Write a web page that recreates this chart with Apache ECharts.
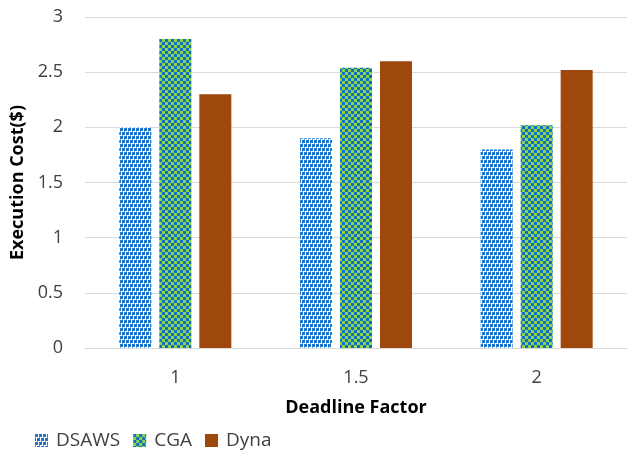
<!DOCTYPE html>
<html><head><meta charset="utf-8">
<script src="https://cdn.jsdelivr.net/npm/echarts@6/dist/echarts.min.js"></script>
<style>html,body{margin:0;padding:0;background:#fff}#c{width:631px;height:454px}</style>
</head><body><div id="c"></div>
<script>
const categories = ['1', '1.5', '2'];
const dsaws = [2.0, 1.9, 1.8];
const cga = [2.8, 2.54, 2.02];
const dyna = [2.3, 2.6, 2.52];
const seriesNames = ['DSAWS', 'CGA', 'Dyna'];

function makeDsaws() {
  const c = document.createElement('canvas'); c.width = 4; c.height = 8;
  const g = c.getContext('2d');
  g.fillStyle = '#ffffff'; g.fillRect(0, 0, 4, 8);
  g.fillStyle = '#1f7ad0';
  g.fillRect(0, 0, 3, 3);
  g.fillRect(2, 4, 2, 3); g.fillRect(0, 4, 1, 3);
  g.fillStyle = '#6aa8e2';
  g.fillRect(0, 3, 1, 1); g.fillRect(2, 7, 1, 1);
  g.fillStyle = '#0f62b0';
  g.fillRect(1, 1, 1, 1); g.fillRect(3, 5, 1, 1);
  return c;
}
function makeCga() {
  const c = document.createElement('canvas'); c.width = 6; c.height = 6;
  const g = c.getContext('2d');
  g.fillStyle = '#92d050'; g.fillRect(0, 0, 6, 6);
  g.fillStyle = '#0a72c0';
  g.fillRect(0, 0, 3, 3); g.fillRect(3, 3, 3, 3);
  return c;
}
const colors = [
  { image: makeDsaws(), repeat: 'repeat' },
  { image: makeCga(), repeat: 'repeat' },
  '#9e480e'
];
const dataSets = [dsaws, cga, dyna];
const font = '"Open Sans", "Noto Sans", sans-serif';
const chart = echarts.init(document.getElementById('c'), null, { renderer: 'canvas' });
chart.setOption({
  animation: false,
  textStyle: { fontFamily: font },
  grid: { left: 85, right: 4, top: 17, bottom: 106 },
  legend: {
    left: 30, top: 426, icon: 'rect', itemWidth: 13, itemHeight: 13, itemGap: 13,
    textStyle: { fontSize: 19, color: '#404040', fontFamily: font, padding: [0, 0, 0, 3] },
    data: seriesNames
  },
  xAxis: {
    type: 'category', data: categories,
    name: 'Deadline Factor', nameLocation: 'center', nameGap: 51,
    nameTextStyle: { fontSize: 18, fontWeight: 'bold', color: '#000', fontFamily: font },
    axisLine: { show: true, lineStyle: { color: '#d9d9d9', width: 1 } },
    axisTick: { show: false },
    axisLabel: { fontSize: 18, color: '#404040', margin: 21 }
  },
  yAxis: {
    type: 'value', min: 0, max: 3, interval: 0.5,
    name: 'Execution Cost($)', nameLocation: 'center', nameGap: 57,
    nameTextStyle: { fontSize: 18, fontWeight: 'bold', color: '#000', fontFamily: font },
    axisLine: { show: false }, axisTick: { show: false },
    axisLabel: { fontSize: 18, color: '#404040', margin: 22 },
    splitLine: { lineStyle: { color: '#d9d9d9', width: 1 } }
  },
  series: seriesNames.map((n, i) => ({
    name: n, type: 'bar', data: dataSets[i], barWidth: 32, barGap: '25%',
    itemStyle: { color: colors[i] }
  }))
});
</script></body></html>
